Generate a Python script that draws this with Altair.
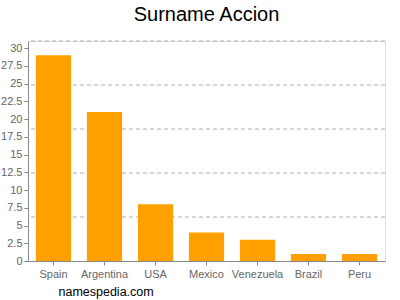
import altair as alt
import pandas as pd

countries = ["Spain", "Argentina", "USA", "Mexico", "Venezuela", "Brazil", "Peru"]
counts = [29, 21, 8, 4, 3, 1, 1]
y_ticks = [0, 2.5, 5, 7.5, 10, 12.5, 15, 17.5, 20, 22.5, 25, 27.5, 30]
grid_lines = [6.2, 12.4, 18.6, 24.8, 31]
y_max = 31

bars_df = pd.DataFrame({"country": countries, "count": counts})
grid_df = pd.DataFrame({"g": grid_lines})

font = "Liberation Sans"

y_scale = alt.Scale(domain=[0, y_max], nice=False, zero=True)
y_axis = alt.Axis(
    title=None,
    values=y_ticks,
    format=".1~f",
    labelFont=font,
    labelFontSize=11,
    labelColor="#666666",
    labelPadding=2,
    domainColor="#888888",
    tickColor="#888888",
    tickSize=4,
    grid=False,
)

grid = alt.Chart(grid_df).mark_rule(
    color="#b0b0b0", strokeDash=[4, 3], strokeWidth=1
).encode(
    y=alt.Y("g:Q", scale=y_scale, axis=y_axis),
)

bars = alt.Chart(bars_df).mark_bar(color="#ffa000").encode(
    x=alt.X(
        "country:N",
        sort=countries,
        scale=alt.Scale(paddingInner=0.31, paddingOuter=0.155),
        axis=alt.Axis(
            title="namespedia.com",
            titleFont=font,
            titleFontSize=12.5,
            titleFontWeight="normal",
            titleColor="#000000",
            titleAlign="left",
            titleAnchor="start",
            titleBaseline="alphabetic",
            titleX=30,
            titleY=34,
            labelFont=font,
            labelFontSize=11,
            labelColor="#666666",
            labelAngle=0,
            labelPadding=3,
            domainColor="#888888",
            tickColor="#888888",
            tickSize=4,
            grid=False,
        ),
    ),
    y=alt.Y("count:Q", scale=y_scale, axis=y_axis),
)

chart = alt.layer(grid, bars).properties(
    width=357,
    height=220,
    title=alt.TitleParams(
        "Surname Accion",
        font=font,
        fontSize=20,
        fontWeight="normal",
        color="#000000",
        anchor="middle",
        baseline="alphabetic",
        offset=0,
    ),
    autosize=alt.AutoSizeParams(type="none"),
    padding={"left": 28, "top": 41, "right": 15, "bottom": 39},
).configure_view(stroke=None).configure(background="white")

chart.save("out.html", embed_options={"renderer": "svg", "actions": False})
